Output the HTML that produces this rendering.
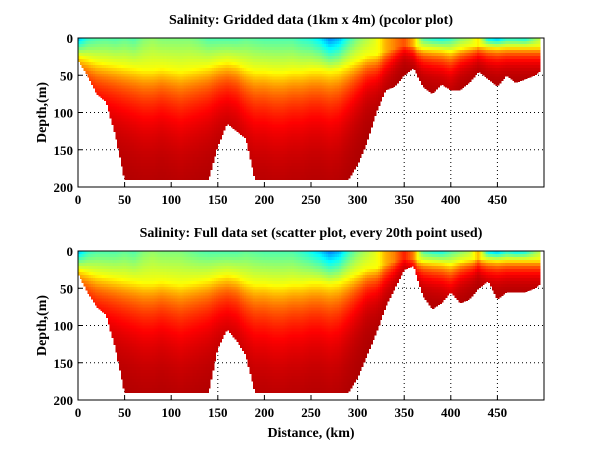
<!DOCTYPE html>
<html><head><meta charset="utf-8">
<style>
body{margin:0;background:#fff;}
svg text{font-family:"Liberation Serif",serif;font-weight:bold;fill:#000;}
</style></head>
<body>
<svg id="fig" width="600" height="451" viewBox="0 0 600 451" xmlns="http://www.w3.org/2000/svg">
<rect width="600" height="451" fill="#fff"/>
</svg>
<script>
// ---- data (distance nodes in km, depths in m, surface values on 0..1 colour scale) ----
const distKm = [0,10,20,30,40,50,60,70,80,90,100,110,120,130,140,150,160,170,180,190,200,210,220,230,240,250,260,270,280,290,300,310,320,330,340,350,360,370,380,390,400,410,420,430,440,450,460,470,480,490,500];
const bottomTop = [30,50,75,85,130,190,190,190,190,190,190,190,190,190,190,145,115,125,135,190,190,190,190,190,190,190,190,190,190,190,170,140,100,70,65,50,40,65,75,62,70,70,60,45,55,65,50,60,55,50,40];
const bottomBot = [30,55,75,85,130,190,190,190,190,190,190,190,190,190,190,130,105,120,140,190,190,190,190,190,190,190,190,190,190,190,170,140,110,75,50,25,20,60,78,70,55,70,65,50,40,65,55,55,55,50,40];
const surfTop = [0.3,0.42,0.45,0.46,0.45,0.47,0.45,0.5,0.52,0.5,0.5,0.5,0.5,0.48,0.45,0.45,0.45,0.45,0.47,0.46,0.45,0.45,0.45,0.45,0.42,0.4,0.35,0.25,0.3,0.42,0.5,0.55,0.6,0.7,0.75,0.8,0.7,0.45,0.4,0.38,0.42,0.5,0.55,0.65,0.35,0.3,0.4,0.4,0.38,0.5,0.6];
const surfBot = [0.3,0.42,0.45,0.45,0.45,0.47,0.45,0.5,0.52,0.5,0.5,0.5,0.48,0.46,0.45,0.45,0.45,0.45,0.47,0.46,0.45,0.45,0.45,0.45,0.42,0.38,0.33,0.25,0.3,0.42,0.5,0.55,0.6,0.7,0.75,0.85,0.75,0.45,0.4,0.38,0.45,0.5,0.55,0.7,0.35,0.3,0.4,0.35,0.38,0.5,0.6];
const haloDepth = [60,70,80,85,90,95,100,105,105,100,105,110,105,100,95,85,80,85,100,110,110,115,115,110,110,105,105,110,105,90,75,60,55,45,35,25,25,35,38,40,45,35,30,25,30,32,30,30,30,30,30];
const yTicks = [0,50,100,150,200];
const xTicks = [0,50,100,150,200,250,300,350,400,450];
const titles = ["Salinity: Gridded data (1km x 4m) (pcolor plot)","Salinity: Full data set (scatter plot, every 20th point used)"];

const NS="http://www.w3.org/2000/svg";
const svg=document.getElementById('fig');
function el(t,a,p){const e=document.createElementNS(NS,t);for(const k in a)e.setAttribute(k,a[k]);(p||svg).appendChild(e);return e;}
function interp(arr,x){const i=Math.min(arr.length-2,Math.floor(x/10));const f=(x-distKm[i])/10;return arr[i]*(1-f)+arr[i+1]*f;}
function jet(v){v=Math.max(0,Math.min(1,v));
  const r=Math.max(0,Math.min(1,1.5-Math.abs(4*v-3))),g=Math.max(0,Math.min(1,1.5-Math.abs(4*v-2))),b=Math.max(0,Math.min(1,1.5-Math.abs(4*v-1)));
  return `rgb(${Math.round(r*255)},${Math.round(g*255)},${Math.round(b*255)})`;}
function profile(s,t){
  const top=Math.max(s,0.62);
  if(t<0.4) return s+(top-s)*(t/0.4);
  return top+(0.96-top)*(1-Math.exp(-2.2*(t-0.4)));
}

const L=78,R=544,W=R-L;
const panels=[{top:38,bot:187,bottom:bottomTop,surf:surfTop,name:'gridded'},{top:251,bot:400,bottom:bottomBot,surf:surfBot,name:'scatter'}];
panels.forEach((P,pi)=>{
  const H=P.bot-P.top;
  const xs=d=>L+d/500*W, ys=z=>P.top+z/200*H;
  const g=el('g',{});
  
  
  xTicks.forEach(t=>{if(t>0){const l=el('line',{x1:xs(t),x2:xs(t),y1:P.top,y2:P.bot,stroke:'#000','stroke-dasharray':'1,3','stroke-width':1},g);}});
  yTicks.forEach(t=>{const l=el('line',{x1:L,x2:R,y1:ys(t),y2:ys(t),stroke:'#000','stroke-dasharray':'1,3','stroke-width':1},g);});
  const hm=el('g',{'shape-rendering':'crispEdges'},g);
  
  
  for(let d=0;d<496;d+=2){
    const bd=interp(P.bottom,d+1), s=interp(P.surf,d+1), hd=interp(haloDepth,d+1);
    for(let z=0;z<bd;z+=4){
      const zz=Math.min(4,bd-z);
      const v=profile(s,(z+2)/hd);
      const r=el('rect',{x:xs(d),y:ys(z),width:xs(d+2)-xs(d)+0.3,height:ys(z+zz)-ys(z)+0.3,fill:jet(v)},hm);
      
      
    }
  }
  const bx=el('rect',{x:L,y:P.top,width:W,height:H,fill:'none',stroke:'#000','stroke-width':1},g);
  
  
  xTicks.forEach(t=>{
    el('line',{x1:xs(t),x2:xs(t),y1:P.bot,y2:P.bot-4,stroke:'#000'},g);
    const tx=el('text',{x:xs(t),y:P.bot+17,'text-anchor':'middle','font-size':13},g);tx.textContent=t;
    
    
  });
  yTicks.forEach(t=>{
    el('line',{x1:L,x2:L+4,y1:ys(t),y2:ys(t),stroke:'#000'},g);
    const tx=el('text',{x:L-5,y:ys(t)+5,'text-anchor':'end','font-size':13},g);tx.textContent=t;
    
    
  });
  const ti=el('text',{x:311,y:P.top-14,'text-anchor':'middle','font-size':14},g);ti.textContent=titles[pi];
  
  
  const yl=el('text',{x:0,y:0,'text-anchor':'middle','font-size':14,transform:`translate(46,${(P.top+P.bot)/2}) rotate(-90)`},g);yl.textContent='Depth,(m)';
  
  
});
const xl=el('text',{x:311,y:437,'text-anchor':'middle','font-size':14});xl.textContent='Distance, (km)';


</script>
</body></html>
